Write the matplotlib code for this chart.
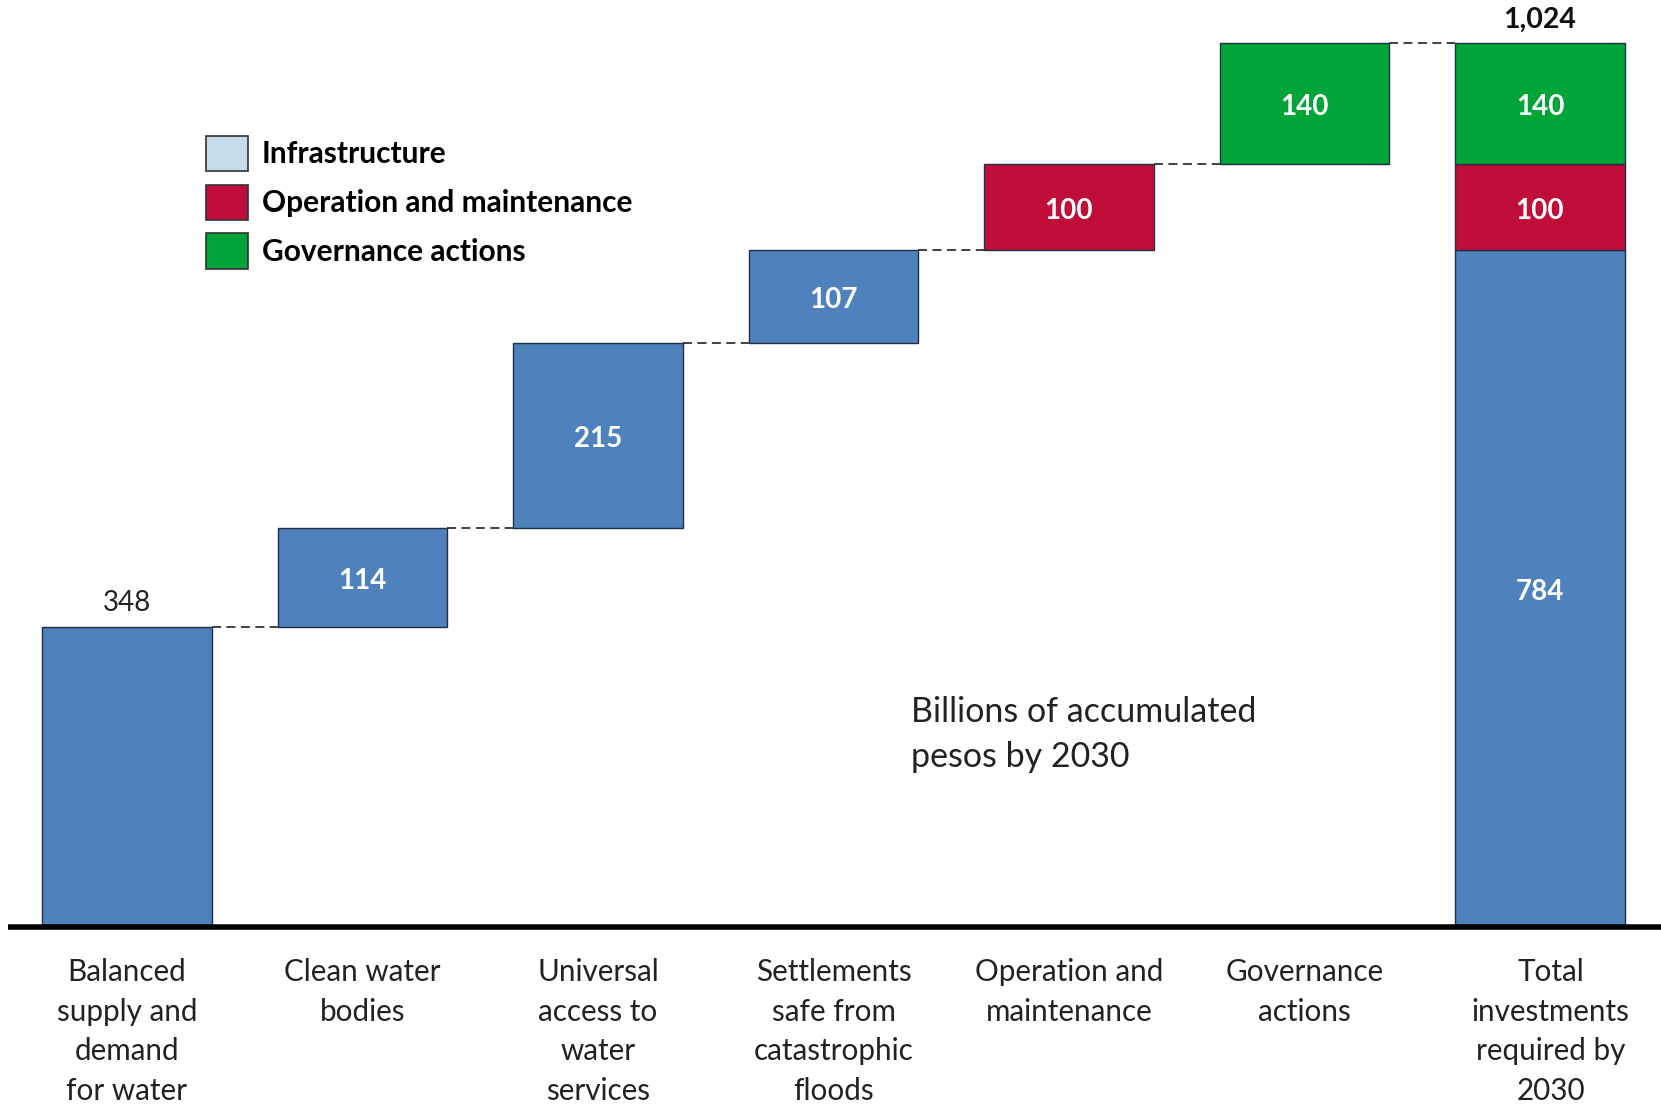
import matplotlib
matplotlib.use("Agg")
import matplotlib.pyplot as plt
from matplotlib.patches import Patch

categories = ["Balanced\nsupply and\ndemand\nfor water", "Clean water\nbodies",
              "Universal\naccess to\nwater\nservices", "Settlements\nsafe from\ncatastrophic\nfloods",
              "Operation and\nmaintenance", "Governance\nactions",
              "Total\ninvestments\nrequired by\n2030"]
step_values = [348, 114, 215, 107, 100, 140]
step_kinds = ["infra", "infra", "infra", "infra", "om", "gov"]
total_parts = [784, 100, 140]
total_kinds = ["infra", "om", "gov"]
total_label = "1,024"
legend_labels = ["Infrastructure", "Operation and maintenance", "Governance actions"]

colors = {"infra": "#4F81BD", "om": "#C00D3A", "gov": "#00A539"}
legend_colors = ["#C6DCEA", "#C00D3A", "#00A539"]

plt.rcParams['font.family'] = ['Lato', 'DejaVu Sans']
fig = plt.figure(figsize=(16.61, 11.10), dpi=100)
ax = fig.add_axes([0, 0, 1, 1])
ax.set_xlim(-0.539, 6.514)
ax.set_ylim(-212, 1074)
ax.axis("off")

w = 0.72
base = 0
tops = []
for i, (v, k) in enumerate(zip(step_values, step_kinds)):
    ax.bar(i, v, bottom=base, width=w, color=colors[k], edgecolor="#1F2F45", linewidth=1.0)
    if i == 0:
        ax.text(i, base + v + 12, str(v), ha="center", va="bottom", fontsize=20, color="#222222")
    else:
        ax.text(i, base + v / 2 - 4, str(v), ha="center", va="center", fontsize=20,
                color="white", fontweight="bold")
    base += v
    tops.append(base)

n = len(step_values)
b = 0
for v, k in zip(total_parts, total_kinds):
    ax.bar(n, v, bottom=b, width=w, color=colors[k], edgecolor="#1F2F45", linewidth=1.0)
    ax.text(n, b + v / 2 - 4, str(v), ha="center", va="center", fontsize=20,
            color="white", fontweight="bold")
    b += v
ax.text(n, b + 12, total_label, ha="center", va="bottom", fontsize=20.5,
        fontweight="bold", color="#111111")

# connectors
for i, t in enumerate(tops):
    ax.plot([i + w / 2, i + 1 - w / 2], [t, t], color="#333333", lw=1.3,
            linestyle=(0, (5, 3)))

# baseline
ax.plot([-0.503, 6.514], [0, 0], color="black", lw=4, solid_capstyle="butt", zorder=5)

# category labels
for i, c in enumerate(categories):
    dx = 0.045 if i == len(categories) - 1 else 0
    ax.text(i + dx, -36, c, ha="center", va="top", fontsize=21.3, color="#222222", linespacing=1.5)

# annotation
ax.text(3.33, 223, "Billions of accumulated\npesos by 2030",
        ha="left", va="center", fontsize=24.5, color="#222222", linespacing=1.5)

# legend
handles = [Patch(facecolor=c, edgecolor="#333333", linewidth=1.2) for c in legend_colors]
leg = fig.legend(handles, legend_labels, loc="upper left", bbox_to_anchor=(0.108, 0.902),
                 frameon=False, prop={"size": 21.5, "weight": "bold"},
                 handlelength=1.4, handleheight=1.45, handletextpad=0.45, labelspacing=0.45)

fig.savefig("out.png", dpi=100)
